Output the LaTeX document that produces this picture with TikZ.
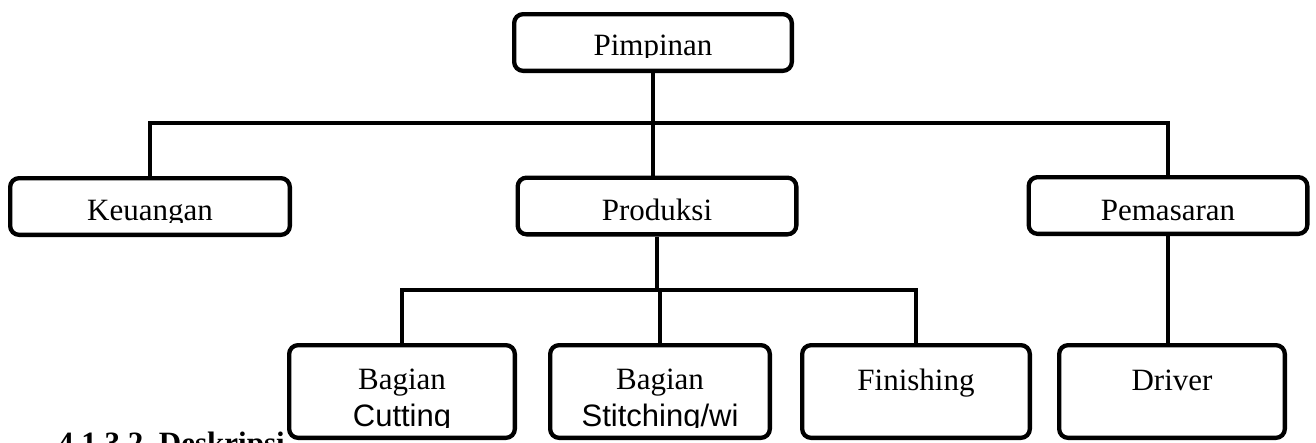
\documentclass[tikz,border=0pt]{standalone}
\usepackage{fontspec}
\setmainfont{Liberation Serif}
\newfontfamily\arialf{Liberation Sans}
\begin{document}
\begin{tikzpicture}[x=1pt,y=-1pt,
  box/.style={draw=black, line width=4.3pt, rounded corners=9pt, fill=white, inner sep=0pt},
  conn/.style={draw=black, line width=3.8pt},
  lbl/.style={anchor=base, inner sep=0pt, font=\fontsize{31}{37}\selectfont},
  lbls/.style={anchor=base, inner sep=0pt, font=\arialf\fontsize{31}{37}\selectfont}]
\useasboundingbox (0,0) rectangle (1316,442);
\clip (0,0) rectangle (1316,442);
% heading behind boxes
\node[anchor=base west, inner sep=0pt, font=\bfseries\fontsize{31}{37}\selectfont] (head) at (58,453) {4.1.3.2.\ Deskripsi};
% boxes
\node[box, minimum width=277.7pt, minimum height=56.7pt] (pim) at (653,42.5) {};
\node[box, minimum width=279.7pt, minimum height=56.7pt] (keu) at (150,206.5) {};
\node[box, minimum width=278.7pt, minimum height=56.7pt] (pro) at (657,206) {};
\node[box, minimum width=278.7pt, minimum height=56.7pt] (pem) at (1168,205.5) {};
\node[box, minimum width=225.7pt, minimum height=92.7pt] (cut) at (402,391.5) {};
\node[box, minimum width=219.7pt, minimum height=92.7pt] (sti) at (660,391.5) {};
\node[box, minimum width=227.7pt, minimum height=92.7pt] (fin) at (916,391.5) {};
\node[box, minimum width=225.7pt, minimum height=92.7pt] (drv) at (1172,391.5) {};
% connectors
\coordinate (bus1) at (653,123);
\coordinate (bus2) at (657,290);
\draw[conn] (pim.south) -- (pim.south |- pro.north);
\draw[conn] (keu.north) |- (bus1) -| (pem.north);
\draw[conn] (pro.south) -- (bus2);
\draw[conn] (cut.north) |- (bus2) -| (fin.north);
\draw[conn] (bus2) -- (bus2 -| sti.north) -- (sti.north);
\draw[conn] (pem.south) -- (pem.south |- drv.north);
% labels
\begin{scope}
\clip (500,10) rectangle (800,57);
\node[lbl] (tpim) at (653,55) {Pimpinan};
\end{scope}
\begin{scope}
\clip (10,180) rectangle (290,222);
\node[lbl] (tkeu) at (150,220) {Keuangan};
\end{scope}
\node[lbl] (tpro) at (657,220) {Produksi};
\node[lbl] (tpem) at (1168,220) {Pemasaran};
\node[lbl] (tcut1) at (402,389) {Bagian};
\begin{scope}
\clip (290,395) rectangle (515,427.5);
\node[lbls] (tcut2) at (402,426) {Cutting};
\end{scope}
\node[lbl] (tsti1) at (660,389) {Bagian};
\begin{scope}
\clip (550,395) rectangle (770,427.5);
\node[lbls] (tsti2) at (660,426) {Stitching/wi};
\end{scope}
\node[lbl] (tfin) at (916,390) {Finishing};
\node[lbl] (tdrv) at (1172,390) {Driver};
\end{tikzpicture}
\end{document}
